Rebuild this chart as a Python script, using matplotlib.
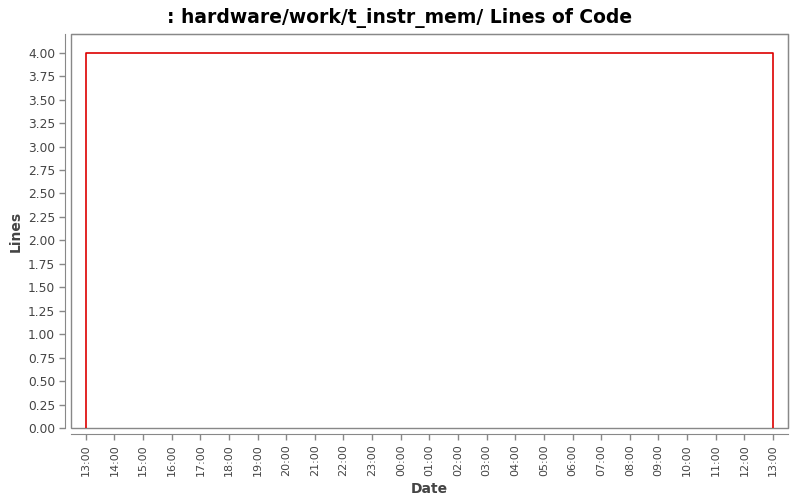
import matplotlib
matplotlib.use('Agg')
import matplotlib.pyplot as plt
import matplotlib.dates as mdates
from matplotlib.patches import Rectangle
import pandas as pd

# data
dates = pd.to_datetime(['2010-01-01 13:00', '2010-01-01 13:00',
                        '2010-01-02 13:00', '2010-01-02 13:00'])
lines = [0, 4, 4, 0]

fig = plt.figure(figsize=(8, 5), dpi=100)
ax = fig.add_axes([0.08875, 0.144, 0.896, 0.788])

ax.plot(dates, lines, color='#dd0000', lw=1.2)

ax.set_ylim(0, 4.2)
ax.set_yticks([i * 0.25 for i in range(17)])
ax.yaxis.set_major_formatter(plt.FormatStrFormatter('%.2f'))

pad = pd.Timedelta(minutes=31)
ax.set_xlim(dates[0] - pad, dates[-1] + pad)
ax.xaxis.set_major_locator(mdates.HourLocator())
ax.xaxis.set_major_formatter(mdates.DateFormatter('%H:%M'))

ax.tick_params(labelsize=8, colors='#444444', length=4, width=1, color='#888888')
ax.tick_params(axis='x', labelrotation=90)
ax.tick_params(axis='y', labelsize=8.8)

for s in ['top', 'right']:
    ax.spines[s].set_color('#888888')
for s in ['left', 'bottom']:
    ax.spines[s].set_position(('outward', 4))
    ax.spines[s].set_color('#888888')
ax.add_patch(Rectangle((0, 0), 1, 1, transform=ax.transAxes, fill=False,
                       edgecolor='#888888', lw=1, clip_on=False))

ax.set_xlabel('Date', fontsize=10, fontweight='bold', color='#444444')
ax.set_ylabel('Lines', fontsize=10, fontweight='bold', color='#444444')
ax.yaxis.set_label_coords(-0.068, 0.5)
ax.xaxis.set_label_coords(0.5, -0.137)
fig.suptitle(': hardware/work/t_instr_mem/ Lines of Code', fontsize=13.5,
             fontweight='bold', y=0.985)

fig.savefig('out.png', dpi=100)
